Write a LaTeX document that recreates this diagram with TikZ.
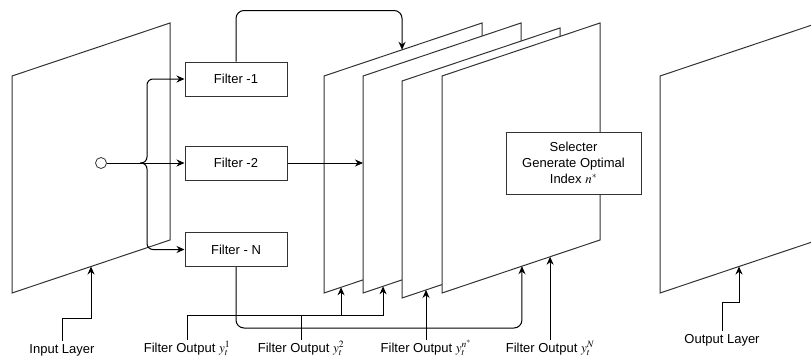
\documentclass[tikz,border=0pt]{standalone}
\usepackage{mathptmx}
\usepackage{fontspec}
\setmainfont{Liberation Sans}
\usepackage{tikz}
\usetikzlibrary{arrows.meta,calc}
\newcommand*{\planeW}{158}
\newcommand*{\planeH}{217}
\newcommand*{\planeS}{53}
\newcommand*{\lblfont}{\fontsize{13}{16}\selectfont}
\tikzset{
    plane/.style={draw=black!80, fill=white, line width=1pt},
    filterbox/.style={draw=black!80, fill=white, line width=1pt, minimum width=102pt, minimum height=34pt, inner sep=0pt},
    conn/.style={draw=black, line width=1pt},
    arr/.style={conn, -{Stealth[length=8pt,width=7pt]}},
    lbl/.style={anchor=base, inner sep=2pt, text height=10pt, text depth=3pt}
}

\begin{document}
\begin{tikzpicture}[x=1pt, y=-1pt, every node/.style={font=\lblfont}]
    \useasboundingbox (0,0) rectangle (811,359);
    \clip (0,0) rectangle (811,359);

    % layers
    \foreach \n/\x/\y in {in/12/0, f1/324/0, f2/363/0, f3/402/5, f4/442/0, out/660/0} {
      \filldraw [plane] (\x,76+\y) coordinate (\n-tl) -- ++(\planeW,-\planeS) coordinate (\n-tr)
        -- ++(0,\planeH) coordinate (\n-br) -- ++(-\planeW,\planeS) coordinate (\n-bl) -- cycle;
    }
    \coordinate (in-hit) at ($(in-bl)!0.5!(in-br)$);
    \coordinate (out-hit) at ($(out-bl)!0.5!(out-br)$);
    \coordinate (f1-hit) at ($(f1-bl)!0.108!(f1-br)$);
    \coordinate (f2-hit) at ($(f2-bl)!0.127!(f2-br)$);
    \coordinate (f3-hit) at ($(f3-bl)!0.152!(f3-br)$);
    \coordinate (f4-hitA) at ($(f4-bl)!0.506!(f4-br)$);
    \coordinate (f4-hitB) at ($(f4-bl)!0.684!(f4-br)$);
    \coordinate (f1-top) at ($(f1-tl)!0.494!(f1-tr)$);

    \node [filterbox, minimum width=135pt, minimum height=62pt, align=center] (sel) at (573.5,163)
      {Selecter\\Generate Optimal\\Index $n^*$};

    % filters
    \node [filterbox] (fone) at (236,79) {Filter -1};
    \node [filterbox] (ftwo) at (236,163) {Filter -2};
    \node [filterbox] (fN) at (236,249.5) {Filter - N};

    \node [draw=black!80, circle, fill=white, minimum size=11pt, inner sep=0pt, line width=0.8pt] (src) at (101,163) {};
    \coordinate (fork) at (140,163);
    \draw [arr] (src) -- (ftwo.west);
    \draw [arr, rounded corners=6] (fork) -- ++(7,0) |- (fone.west);
    \draw [arr, rounded corners=6] (fork) -- ++(7,0) |- (fN.west);

    \draw [arr, rounded corners=8] (fone.north) -- ++(0,-51) -| (f1-top);
    \draw [arr] (ftwo.east) -- (ftwo.east -| f2-tl);
    \draw [arr, rounded corners=8] (fN.south) -- ++(0,61) -| (f4-hitA);

    % labels
    \node [lbl] (inlbl) at (62,353) {Input Layer};
    \node [lbl] (yone) at (187,352) {Filter Output $y_t^1$};
    \node [lbl] (ytwo) at (301,352) {Filter Output $y_t^2$};
    \node [lbl] (ystar) at (f3-hit |- 0,352) {Filter Output $y_t^{n^*}$};
    \node [lbl] (yN) at (f4-hitB |- 0,352) {Filter Output $y_t^N$};
    \node [lbl] (outlbl) at (722,343) {Output Layer};

    \coordinate (bus) at (187,315);
    \draw [arr] (inlbl.north) -- ++(0,-22) -| (in-hit);
    \draw [arr] (outlbl.north) -- ++(0,-28) -| (out-hit);
    \draw [arr] (yone.north) -- (bus) -| (f2-hit);
    \draw [arr] (f1-hit |- bus) -- (f1-hit);
    \draw [conn] (ytwo.north) -- (ytwo.north |- bus);
    \draw [arr] (ystar.north) -- (f3-hit);
    \draw [arr] (yN.north) -- (f4-hitB);
\end{tikzpicture}
\end{document}
